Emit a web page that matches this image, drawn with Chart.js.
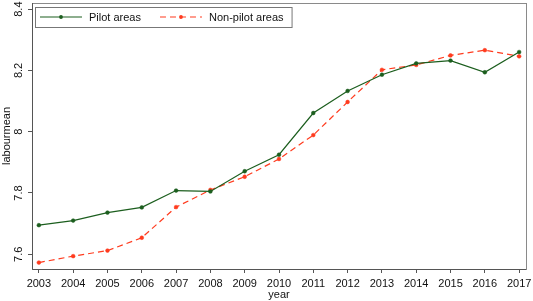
<!DOCTYPE html>
<html>
<head>
<meta charset="utf-8">
<script src="https://cdn.jsdelivr.net/npm/chart.js@4"></script>
<style>
  html, body { margin: 0; padding: 0; background: #fff; }
  #wrap { width: 533px; height: 301px; }
</style>
</head>
<body>
<div id="wrap"><canvas id="labourChart" width="533" height="301"></canvas></div>
<script>
// data
const years = [2003, 2004, 2005, 2006, 2007, 2008, 2009, 2010, 2011, 2012, 2013, 2014, 2015, 2016, 2017];
const pilotAreas = [7.695, 7.710, 7.736, 7.753, 7.808, 7.805, 7.871, 7.925, 8.061, 8.133, 8.186, 8.223, 8.232, 8.194, 8.260];
const nonPilotAreas = [7.573, 7.594, 7.612, 7.654, 7.754, 7.810, 7.853, 7.911, 7.989, 8.097, 8.202, 8.218, 8.249, 8.266, 8.246];
const yTicks = [7.6, 7.8, 8, 8.2, 8.4];
const yTickLabels = ["7.6", "7.8", "8", "8.2", "8.4"];

const green = "#1c5e1e";
const red = "#ff3b1e";
const fontFamily = "'Liberation Sans', Arial, sans-serif";
const axisFont = { family: fontFamily, size: 11, lineHeight: 1 };

// plot frame (Stata-like box) plus the legend box inside the plot
const framePlugin = {
    id: "frame",
    afterDraw(chart) {
        const ctx = chart.ctx;
        const ca = chart.chartArea;
        ctx.save();
        ctx.strokeStyle = "#8a8a8a";
        ctx.lineWidth = 1;
        ctx.strokeRect(ca.left + 0.5, ca.top + 0.5, ca.right - ca.left, ca.bottom - ca.top);
        ctx.strokeStyle = "#555";
        ctx.beginPath();
        ctx.moveTo(ca.left + 0.5, ca.top);
        ctx.lineTo(ca.left + 0.5, ca.bottom + 0.5);
        ctx.lineTo(ca.right, ca.bottom + 0.5);
        ctx.stroke();

        // legend
        ctx.font = "11px " + fontFamily;
        ctx.textBaseline = "middle";
        const boxLeft = ca.left + 3;
        const boxTop = ca.top + 4;
        const boxH = 20;
        const midY = boxTop + boxH / 2;
        let x = boxLeft + 5;
        const items = chart.data.datasets;
        items.forEach((ds, i) => {
            const lineLen = 42;
            ctx.strokeStyle = ds.borderColor;
            ctx.lineWidth = 1.2;
            ctx.setLineDash(ds.borderDash || []);
            ctx.beginPath();
            ctx.moveTo(x, midY);
            ctx.lineTo(x + lineLen, midY);
            ctx.stroke();
            ctx.setLineDash([]);
            ctx.fillStyle = ds.pointBackgroundColor;
            ctx.beginPath();
            ctx.arc(x + lineLen / 2, midY, 1.9, 0, Math.PI * 2);
            ctx.fill();
            x += lineLen + 7;
            ctx.fillStyle = "#111";
            ctx.textAlign = "left";
            ctx.fillText(ds.label, x, midY + 0.5);
            x += ctx.measureText(ds.label).width;
            if (i < items.length - 1) x += 19;
        });
        x += 8;
        ctx.strokeStyle = "#777";
        ctx.lineWidth = 1;
        ctx.strokeRect(boxLeft + 0.5, boxTop + 0.5, x - boxLeft, boxH);
        ctx.restore();
    }
};

document.addEventListener("DOMContentLoaded", () => {
    const ctx = document.getElementById("labourChart").getContext("2d");
    new Chart(ctx, {
        type: "line",
        data: {
            datasets: [
                {
                    label: "Pilot areas",
                    data: years.map((y, i) => ({ x: y, y: pilotAreas[i] })),
                    borderColor: green,
                    backgroundColor: green,
                    pointBackgroundColor: green,
                    pointBorderColor: green,
                    borderWidth: 1.2,
                    pointRadius: 1.9,
                    pointBorderWidth: 0.5,
                    tension: 0
                },
                {
                    label: "Non-pilot areas",
                    data: years.map((y, i) => ({ x: y, y: nonPilotAreas[i] })),
                    borderColor: red,
                    backgroundColor: red,
                    pointBackgroundColor: red,
                    pointBorderColor: red,
                    borderWidth: 1.2,
                    borderDash: [6, 4],
                    pointRadius: 1.9,
                    pointBorderWidth: 0.5,
                    tension: 0
                }
            ]
        },
        options: {
            responsive: false,
            animation: false,
            layout: { autoPadding: false, padding: { top: 3, right: 7, left: 0, bottom: 0 } },
            plugins: {
                legend: { display: false },
                tooltip: { enabled: false }
            },
            scales: {
                x: {
                    type: "linear",
                    min: 2002.8,
                    max: 2017.2,
                    afterBuildTicks: (scale) => { scale.ticks = years.map(v => ({ value: v })); },
                    afterFit: (scale) => { scale.paddingLeft = 0; scale.paddingRight = 0; scale.height = 32; },
                    grid: { drawOnChartArea: false, drawTicks: true, tickLength: 4, color: "#555" },
                    border: { display: false },
                    ticks: {
                        color: "#111",
                        font: axisFont,
                        padding: 5.5,
                        maxRotation: 0,
                        callback: (v) => String(v)
                    },
                    title: {
                        display: true,
                        text: "year",
                        color: "#111",
                        font: axisFont,
                        padding: { top: 0, bottom: 1 }
                    }
                },
                y: {
                    type: "linear",
                    min: 7.552,
                    max: 8.42,
                    afterBuildTicks: (scale) => { scale.ticks = yTicks.map(v => ({ value: v })); },
                    afterFit: (scale) => { scale.paddingTop = 0; scale.paddingBottom = 0; scale.width = 32; },
                    grid: { drawOnChartArea: false, drawTicks: true, tickLength: 4, color: "#555" },
                    border: { display: false },
                    ticks: {
                        color: "#111",
                        font: axisFont,
                        minRotation: 90,
                        maxRotation: 90,
                        crossAlign: "center",
                        padding: 1,
                        callback: (v) => yTickLabels[yTicks.indexOf(v)] ?? ""
                    },
                    title: {
                        display: true,
                        text: "labourmean",
                        color: "#111",
                        font: axisFont,
                        padding: { top: 1.5, bottom: 2.1 }
                    }
                }
            }
        },
        plugins: [framePlugin]
    });
});
</script>
</body>
</html>
